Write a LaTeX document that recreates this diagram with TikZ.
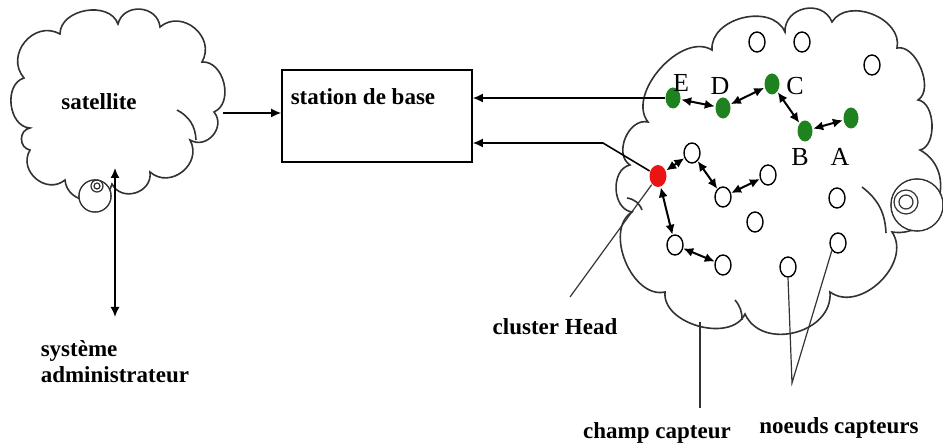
\documentclass[tikz,border=0pt]{standalone}
\usepackage{fontspec}
\setmainfont{Liberation Serif}
\usepackage{tikz}
\usetikzlibrary{calc, positioning, arrows.meta, shapes.geometric}
\usepackage{xcolor}
\definecolor{sensorGreen}{RGB}{30, 130, 30}
\definecolor{headRed}{RGB}{235, 20, 20}
\definecolor{lineGray}{RGB}{50, 50, 50}

\begin{document}
\begin{tikzpicture}[x=0.5pt, y=-0.5pt, >={Latex[length=5pt, width=4.5pt]}, line width=0.8pt,
    puff/.style={bend left=80, looseness=1.35},
    lbl/.style={font=\fontsize{11.5}{13}\selectfont\bfseries, inner sep=1pt},
    letter/.style={font=\fontsize{13}{13}\selectfont, inner sep=0pt},
    wnode/.style={draw, ellipse, fill=white, minimum width=8pt, minimum height=10pt, inner sep=0pt, line width=0.7pt},
    gnode/.style={ellipse, fill=sensorGreen, minimum width=7.5pt, minimum height=10.5pt, inner sep=0pt},
    rnode/.style={ellipse, fill=headRed, minimum width=8.5pt, minimum height=11pt, inner sep=0pt},
    link/.style={<->, >={Latex[length=5pt, width=4.6pt]}, line width=1pt}]
  \useasboundingbox (0,0) rectangle (943,448);

  % satellite cloud
  \draw[lineGray] (30,128) to[puff, looseness=1.1] (24,78) to[puff] (60,34)
    to[puff, looseness=1.1] (118,24) to[puff] (160,27) to[puff] (202,62)
    to[puff, looseness=1.1] (214,112) to[puff] (190,140) to[puff] (150,172)
    to[puff] (112,184) to[puff] (65,180) to[puff] (30,150) to[puff] cycle;
  \draw[lineGray] (177,110) to[bend left=30] (196,140);
  \draw[lineGray] (95,196) circle[radius=8pt];
  \fill[white] (95,196) circle[radius=7.6pt];
  \draw[lineGray, line width=0.6pt] (97,186) circle[radius=3pt] (97,186) circle[radius=1.5pt];
  \node[lbl] (sat) at (99,102) {satellite};
  \coordinate (satR) at (223,113);
  \coordinate (satB) at (115,168);

  % base station
  \node[draw, minimum width=95pt, minimum height=46pt, inner sep=0pt] (box) at (377,116) {};
  \node[lbl] (boxlbl) at (363,97) {station de base};
  \draw[->] (satR) -- (box.west |- satR);

  % administrator
  \node[lbl, align=left, anchor=north west] (admin) at (38,338) {système\\administrateur};
  \coordinate (adminT) at (115,317);
  \draw[<->] (satB) -- (adminT);

  % sensor field cloud
  \draw[lineGray] (648,122) to[puff, looseness=0.95] (712,50) to[puff, looseness=1.1] (785,32)
    to[puff] (832,22) to[puff, looseness=1.1] (897,48) to[puff, looseness=0.9] (918,100)
    to[puff, looseness=0.9] (920,150) to[puff] (892,232) to[puff, looseness=1.1] (830,292)
    to[puff, looseness=1.2] (745,314) to[puff, looseness=1.0] (665,292)
    to[puff, looseness=1.0] (632,212) to[puff, looseness=1.1] (630,165)
    to[puff, looseness=1.1] cycle;
  \draw[lineGray] (862,187) to[bend left=25] (886,233);
  \draw[lineGray] (742,320) to[bend right=20] (735,300);
  \draw[lineGray] (642,210) to[bend right=30] (627,198);
  \draw[lineGray] (917,205) circle[radius=13pt];
  \fill[white] (917,205) circle[radius=12.6pt];
  \draw[lineGray, line width=0.6pt] (906,202) circle[radius=6pt] (906,202) circle[radius=3.5pt];

  % sensor nodes
  \foreach \nm/\x/\y in {w1/757/42, w2/802/42, w3/872/65, w4/692/153, w5/768/175,
      w6/723/197, w7/837/198, w8/755/222, w9/675/245, w10/723/265, w11/788/267, w12/838/243}
    \node[wnode] (\nm) at (\x,\y) {};
  \node[gnode] (E) at (673,98) {};
  \node[gnode] (D) at (723,108) {};
  \node[gnode] (C) at (772,84) {};
  \node[gnode] (B) at (805,131) {};
  \node[gnode] (A) at (851,118) {};
  \node[rnode] (ch) at (658,176) {};
  \node[letter] (lE) at (681,83) {E};
  \node[letter] (lD) at (720,86) {D};
  \node[letter] (lC) at (795,86) {C};
  \node[letter] (lB) at (800,157) {B};
  \node[letter] (lA) at (840,157) {A};

  % multi-hop links
  \draw[link] (E) -- (D);
  \draw[link] (D) -- (C);
  \draw[link] (C) -- (B);
  \draw[link] (B) -- (A);
  \draw[link] (ch) -- (w4);
  \draw[link] (w4) -- (w6);
  \draw[link] (w6) -- (w5);
  \draw[link] (ch) -- (w9);
  \draw[link] (w9) -- (w10);

  % links to base station
  \coordinate (kink) at (603,143);
  \draw[->] (E.west) -- (box.east |- E.west);
  \draw[->] (ch) -- (kink) -- (kink -| box.east);

  % callouts
  \node[lbl] (chead) at (555,327) {cluster Head};
  \coordinate (cheadT) at (570,297);
  \draw[lineGray, line width=0.6pt] (cheadT) -- (ch);
  \node[lbl] (field) at (657,433) {champ capteur};
  \coordinate (fieldB) at (700,322);
  \coordinate (fieldT) at (700,408);
  \draw[lineGray, line width=0.6pt] (fieldB) -- (fieldT);
  \node[lbl] (sensors) at (839,428) {noeuds capteurs};
  \coordinate (fork) at (792,383);
  \draw[lineGray, line width=0.6pt] (w11.south) -- (fork) -- (w12.south west);
\end{tikzpicture}
\end{document}
